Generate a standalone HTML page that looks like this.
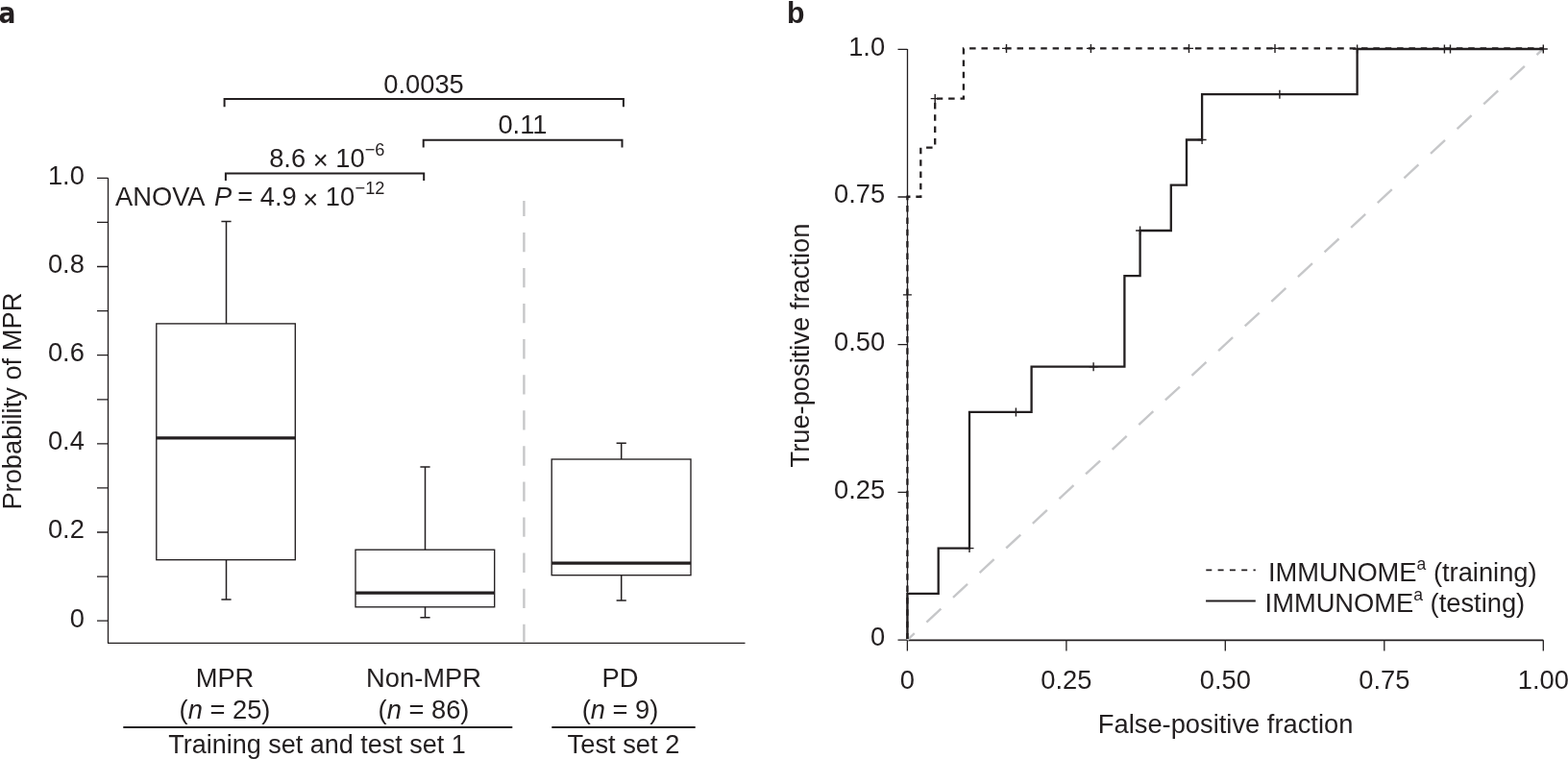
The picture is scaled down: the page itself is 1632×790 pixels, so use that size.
<!DOCTYPE html>
<html><head><meta charset="utf-8"><title>Figure</title><style>
html,body{margin:0;padding:0;background:#fff;width:1632px;height:790px;overflow:hidden}
svg{display:block}
.t{font-family:"Liberation Sans",Arial,Helvetica,sans-serif;font-size:27.3px;fill:#231f20}
.sup{font-size:17.5px}
.sup2{font-size:18.2px}
.lab{font-family:"Liberation Sans",Arial,Helvetica,sans-serif;font-size:30px;font-weight:bold;fill:#231f20}
</style></head><body>
<svg width="1632" height="790" viewBox="0 0 1632 790">
<path d="M112.5 185.3V669.3M112 669.3H775.5" stroke="#231f20" stroke-width="1.3" fill="none"/>
<path d="M101 646.2H112.5M101 600.1H112.5M101 554.0H112.5M101 507.9H112.5M101 461.8H112.5M101 415.8H112.5M101 369.7H112.5M101 323.6H112.5M101 277.5H112.5M101 231.4H112.5M101 185.3H112.5" stroke="#231f20" stroke-width="1.3" fill="none"/>
<text x="87.9" y="652.6" text-anchor="end" class="t">0</text>
<text x="87.9" y="560.4" text-anchor="end" class="t">0.2</text>
<text x="87.9" y="468.2" text-anchor="end" class="t">0.4</text>
<text x="87.9" y="376.1" text-anchor="end" class="t">0.6</text>
<text x="87.9" y="283.9" text-anchor="end" class="t">0.8</text>
<text x="87.9" y="191.7" text-anchor="end" class="t">1.0</text>
<text transform="translate(22.3 417.6) rotate(-90)" text-anchor="middle" class="t">Probability of MPR</text>
<path d="M545.4 208.9V669" stroke="#c6c7c9" stroke-width="2.4" stroke-dasharray="20.3 16.78" stroke-dashoffset="4.1" fill="none"/>
<path d="M235.5 230.6V336.9M235.5 582.7V624.1M230.4 230.6H240.6M230.4 624.1H240.6" stroke="#231f20" stroke-width="1.5" fill="none"/><rect x="162.8" y="336.9" width="144.5" height="245.8" stroke="#231f20" stroke-width="1.35" fill="none"/><path d="M162.8 455.8H307.3" stroke="#231f20" stroke-width="3.2"/>
<path d="M442.5 486.1V572.2M442.5 631.8V642.8M437.4 486.1H447.6M437.4 642.8H447.6" stroke="#231f20" stroke-width="1.5" fill="none"/><rect x="370" y="572.2" width="144.7" height="59.6" stroke="#231f20" stroke-width="1.35" fill="none"/><path d="M370 617.1H514.7" stroke="#231f20" stroke-width="3.2"/>
<path d="M646.7 461.3V478M646.7 598.7V625.1M641.6 461.3H651.8M641.6 625.1H651.8" stroke="#231f20" stroke-width="1.5" fill="none"/><rect x="574.2" y="478" width="144.8" height="120.7" stroke="#231f20" stroke-width="1.35" fill="none"/><path d="M574.2 586.1H719" stroke="#231f20" stroke-width="3.2"/>
<path d="M233.6 111.3V103.1H648.9V111.3M440.7 153.5V145.8H647.5V153.5M234.9 188V180.5H441.2V188" stroke="#231f20" stroke-width="2" fill="none"/>
<text x="441" y="96.8" text-anchor="middle" class="t">0.0035</text>
<text x="544" y="139" text-anchor="middle" class="t">0.11</text>
<text x="280.2" y="173.7" class="t">8.6 <tspan dy="2.6">×</tspan><tspan dy="-2.6"> 10</tspan><tspan class="sup2" dy="-12.0">−6</tspan></text>
<text x="120" y="214" class="t">ANOVA <tspan font-style="italic" dx="3.3">P</tspan><tspan dx="-1.5"> =</tspan> 4.9<tspan dx="-1.1"> </tspan><tspan dy="2.8">×</tspan><tspan dy="-2.8"> 10</tspan><tspan class="sup2" dy="-12.4" dx="0.5">−12</tspan></text>
<text x="234" y="715.3" text-anchor="middle" class="t">MPR</text>
<text x="234" y="748.3" text-anchor="middle" class="t">(<tspan font-style="italic">n</tspan> = 25)</text>
<text x="441" y="715.3" text-anchor="middle" class="t">Non-MPR</text>
<text x="441" y="748.3" text-anchor="middle" class="t">(<tspan font-style="italic">n</tspan> = 86)</text>
<text x="645.5" y="715.3" text-anchor="middle" class="t">PD</text>
<text x="645.5" y="748.3" text-anchor="middle" class="t">(<tspan font-style="italic">n</tspan> = 9)</text>
<path d="M128.3 757.1H533.3M574.3 757.1H723.7" stroke="#231f20" stroke-width="2" fill="none"/>
<text x="330" y="783.7" text-anchor="middle" class="t" style="font-size:27px">Training set and test set 1</text>
<text x="649" y="783.7" text-anchor="middle" class="t">Test set 2</text>
<text transform="translate(-1.5 23.8) scale(0.9 1)" class="lab" style="font-family:'DejaVu Sans',sans-serif;font-size:29.5px">a</text>
<text transform="translate(819 23.8) scale(0.96 1)" class="lab" style="font-size:31.5px">b</text>
<path d="M944.5 51V666.4" stroke="#231f20" stroke-width="1.3" fill="none"/>
<path d="M944 666.4H1606.3" stroke="#231f20" stroke-width="1.6" fill="none"/>
<path d="M934.5 666.1H944.4M934.5 512.4H944.4M934.5 358.7H944.4M934.5 205.0H944.4M934.5 51.3H944.4M944.4 666.3V677.5M1109.9 666.3V677.5M1275.3 666.3V677.5M1440.8 666.3V677.5M1606.3 666.3V677.5" stroke="#231f20" stroke-width="1.3" fill="none"/>
<text x="921.1" y="672.4" text-anchor="end" class="t">0</text>
<text x="921.1" y="518.7" text-anchor="end" class="t">0.25</text>
<text x="921.1" y="365.0" text-anchor="end" class="t">0.50</text>
<text x="921.1" y="211.3" text-anchor="end" class="t">0.75</text>
<text x="921.1" y="57.6" text-anchor="end" class="t">1.0</text>
<text x="944.4" y="716.8" text-anchor="middle" class="t">0</text>
<text x="1109.9" y="716.8" text-anchor="middle" class="t">0.25</text>
<text x="1275.3" y="716.8" text-anchor="middle" class="t">0.50</text>
<text x="1440.8" y="716.8" text-anchor="middle" class="t">0.75</text>
<text x="1606.3" y="716.8" text-anchor="middle" class="t">1.00</text>
<text x="1275.6" y="762.6" text-anchor="middle" class="t">False-positive fraction</text>
<text transform="translate(841.5 359.6) rotate(-90)" text-anchor="middle" class="t">True-positive fraction</text>
<path d="M944.4 666.1L1606 51" stroke="#c6c7c9" stroke-width="2.4" stroke-dasharray="20.5 17.2" stroke-dashoffset="10.4" fill="none"/>
<path d="M944.4 665.1H944.4V617.9H976.7V570.6H1009.0V428.9H1073.6V381.7H1170.4V287.2H1186.6V240.0H1218.8V192.7H1235.0V145.5H1251.1V98.2H1412.6V51.0H1606.3V51.0" stroke="#231f20" stroke-width="2.3" fill="none"/>
<path d="M1009.0 566.1V575.1M1004.5 570.6H1013.5M1057.4 424.4V433.4M1052.9 428.9H1061.9M1138.1 377.2V386.2M1133.6 381.7H1142.6M1186.6 235.5V244.5M1182.1 240.0H1191.1M1251.1 141.0V150.0M1246.6 145.5H1255.6M1331.9 93.7V102.7M1327.4 98.2H1336.4M1412.6 46.5V55.5M1408.1 51.0H1417.1M1503.4 46.5V55.5M1498.9 51.0H1507.9M1509.5 46.5V55.5M1505.0 51.0H1514.0M1606.3 46.5V55.5M1601.8 51.0H1610.8" stroke="#231f20" stroke-width="1.4" fill="none"/>
<path d="M944.4 665.1V204.75H958.3V153.7H973.2V102.6H1002.9V50.4H1606" stroke="#231f20" stroke-width="2.3" stroke-dasharray="6.5 5.86" stroke-dashoffset="0.4" fill="none"/>
<path d="M944.4 302.4V311.4M939.9 306.9H948.9M973.2 98.1V107.1M968.7 102.6H977.7M1047.5 45.9V54.9M1043.0 50.4H1052.0M1135.4 45.9V54.9M1130.9 50.4H1139.9M1237.5 45.9V54.9M1233.0 50.4H1242.0M1327.0 45.9V54.9M1322.5 50.4H1331.5" stroke="#231f20" stroke-width="1.4" fill="none"/>
<path d="M1255.3 593.3H1306.8" stroke="#231f20" stroke-width="1.8" stroke-dasharray="6 6.3" fill="none"/>
<path d="M1255.1 625.5H1306.8" stroke="#231f20" stroke-width="2" fill="none"/>
<text x="1319.9" y="604.8" class="t">IMMUNOME<tspan class="sup" dy="-12">a</tspan><tspan dy="12"> (training)</tspan></text>
<text x="1316.6" y="637" class="t">IMMUNOME<tspan class="sup" dy="-12">a</tspan><tspan dy="12"> (testing)</tspan></text>
</svg>
</body></html>
